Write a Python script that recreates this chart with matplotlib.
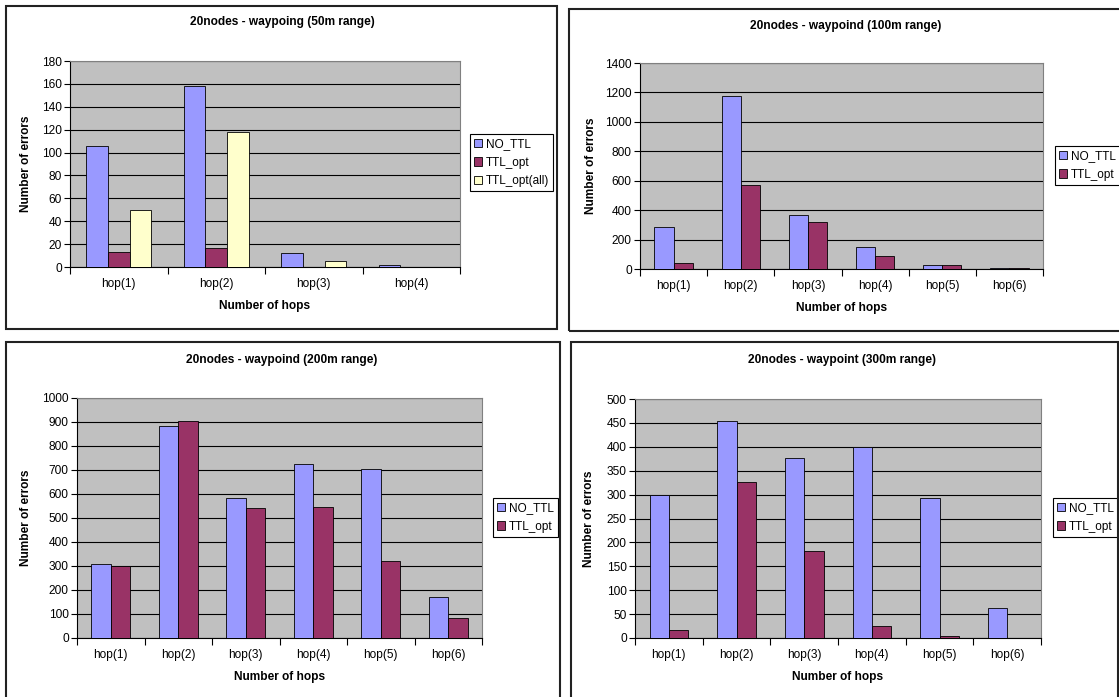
import numpy as np
import matplotlib.pyplot as plt
from matplotlib.patches import Rectangle

plt.rcParams['font.family'] = ['Liberation Sans', 'DejaVu Sans']
plt.rcParams['font.size'] = 8.6

W, H = 1119, 697

# data
hops4 = ['hop(1)', 'hop(2)', 'hop(3)', 'hop(4)']
hops6 = ['hop(1)', 'hop(2)', 'hop(3)', 'hop(4)', 'hop(5)', 'hop(6)']

r50_no_ttl = [106, 158, 12, 2]
r50_ttl_opt = [13, 17, 0, 0]
r50_ttl_all = [50, 118, 5, 0]

r100_no_ttl = [285, 1175, 365, 150, 30, 5]
r100_ttl_opt = [40, 570, 320, 90, 30, 5]

r200_no_ttl = [310, 885, 585, 725, 705, 172]
r200_ttl_opt = [298, 905, 540, 545, 320, 85]

r300_no_ttl = [300, 455, 377, 400, 293, 63]
r300_ttl_opt = [17, 327, 182, 25, 5, 0]

colors = {'NO_TTL': '#9999FF', 'TTL_opt': '#993366', 'TTL_opt(all)': '#FFFFCC'}


def fx(x):
    return x / W


def fy(y):
    return 1 - y / H


fig = plt.figure(figsize=(W / 100, H / 100), dpi=100)


def panel(border, plot, legend_xy, title, title_xy, cats, series, ymax, ystep, ylab_x):
    # outer chart box, in pixels of the picture
    bx0, by0, bx1, by1 = border
    fig.patches.append(Rectangle((fx(bx0), fy(by1)), fx(bx1 - bx0), (by1 - by0) / H,
                                 transform=fig.transFigure, fill=False,
                                 edgecolor='#222222', lw=1.5))
    px0, py0, px1, py1 = plot
    ax = fig.add_axes([fx(px0), fy(py1), fx(px1 - px0), (py1 - py0) / H])
    ax.set_facecolor('#C0C0C0')

    n = len(series)
    w = 1 / (n + 1.5)
    x = np.arange(len(cats))
    for j, (name, vals) in enumerate(series):
        ax.bar(x + (j - (n - 1) / 2) * w, vals, w, color=colors[name],
               edgecolor='black', linewidth=0.6, label=name, zorder=3)

    ax.set_xlim(-0.5, len(cats) - 0.5)
    ax.set_ylim(0, ymax)
    ax.set_yticks(np.arange(0, ymax + 1, ystep))
    ax.yaxis.grid(True, color='black', lw=0.8, zorder=1)
    ax.set_axisbelow(True)

    # tick marks between categories, labels at the centres
    ax.set_xticks(np.arange(len(cats) + 1) - 0.5)
    ax.set_xticklabels([])
    ax.set_xticks(x, minor=True)
    ax.set_xticklabels(cats, minor=True)
    ax.tick_params(axis='x', which='major', direction='out', length=5, width=0.8)
    ax.tick_params(axis='x', which='minor', length=0, pad=8)
    ax.tick_params(axis='y', direction='out', length=4, width=0.8, pad=2)

    for s in ['left', 'bottom']:
        ax.spines[s].set_color('black')
        ax.spines[s].set_linewidth(0.8)
    for s in ['top', 'right']:
        ax.spines[s].set_color('#808080')
        ax.spines[s].set_linewidth(0.8)

    ax.set_xlabel('Number of hops', fontweight='bold', labelpad=7)
    ax.set_ylabel('Number of errors', fontweight='bold')
    ax.yaxis.set_label_coords((ylab_x - px0) / (px1 - px0), 0.5)

    fig.text(fx(title_xy[0]), fy(title_xy[1]), title,
             ha='center', va='center', fontweight='bold')

    lx0, ly0 = legend_xy
    leg = ax.legend(loc='upper left', bbox_to_anchor=(fx(lx0), fy(ly0)),
                    bbox_transform=fig.transFigure, frameon=True, fancybox=False,
                    framealpha=1, edgecolor='black', handlelength=0.7, handleheight=0.7,
                    handletextpad=0.3, borderpad=0.35, labelspacing=0.55,
                    borderaxespad=0, fontsize=8.5)
    leg.get_frame().set_linewidth(0.8)
    return ax


panel((6, 6, 557, 329), (70, 61, 460, 267), (470, 134),
      '20nodes - waypoing (50m range)', (282, 22), hops4,
      [('NO_TTL', r50_no_ttl), ('TTL_opt', r50_ttl_opt), ('TTL_opt(all)', r50_ttl_all)],
      180, 20, 32)

panel((569, 9, 1125, 331), (640, 63, 1043, 269), (1055, 146),
      '20nodes - waypoind (100m range)', (846, 26), hops6,
      [('NO_TTL', r100_no_ttl), ('TTL_opt', r100_ttl_opt)],
      1400, 200, 597)

panel((6, 342, 560, 705), (77, 398, 482, 638), (493, 498),
      '20nodes - waypoind (200m range)', (282, 360), hops6,
      [('NO_TTL', r200_no_ttl), ('TTL_opt', r200_ttl_opt)],
      1000, 100, 32)

panel((571, 342, 1118, 705), (635, 399, 1041, 638), (1053, 498),
      '20nodes - waypoint (300m range)', (842, 360), hops6,
      [('NO_TTL', r300_no_ttl), ('TTL_opt', r300_ttl_opt)],
      500, 50, 595)

fig.savefig('out.png', dpi=100)
